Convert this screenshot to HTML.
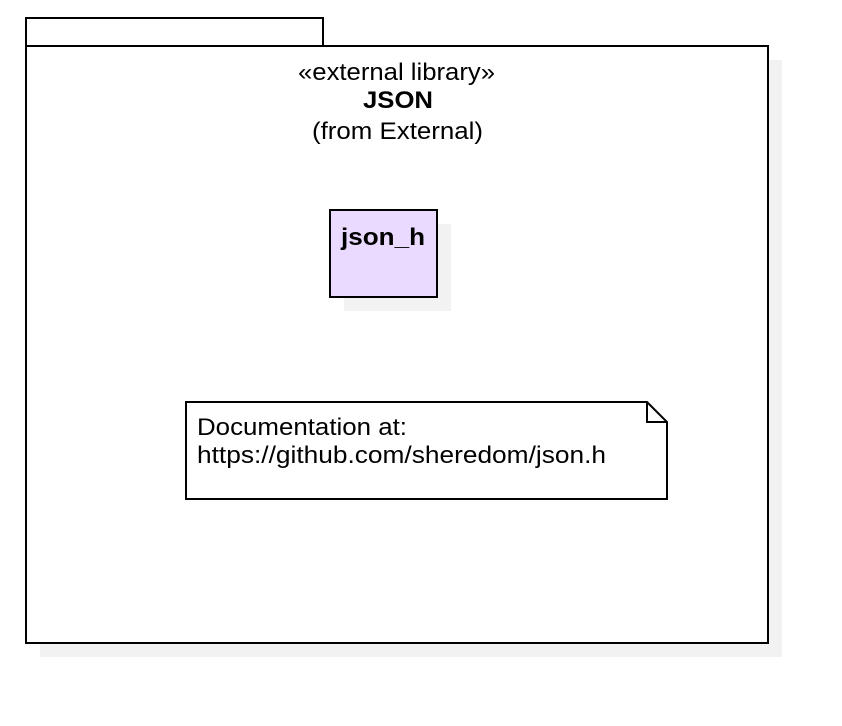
<!DOCTYPE html>
<html><head><meta charset="utf-8"><style>html,body{margin:0;padding:0;background:#fff}svg{display:block}</style></head>
<body>
<svg width="842" height="726" viewBox="0 0 842 726" xmlns="http://www.w3.org/2000/svg" font-family="Liberation Sans, Arial, sans-serif">
<rect x="40" y="60" width="742" height="597" fill="#f2f2f2"/>
<rect x="26" y="18" width="297" height="28" fill="#fff" stroke="#000" stroke-width="2"/>
<rect x="26" y="46" width="742" height="597" fill="#fff" stroke="#000" stroke-width="2"/>
<text x="298" y="80" font-size="24" textLength="197" lengthAdjust="spacingAndGlyphs">«external library»</text>
<text x="363" y="108" font-size="24" font-weight="bold" textLength="70" lengthAdjust="spacingAndGlyphs">JSON</text>
<text x="312" y="139" font-size="24" textLength="171" lengthAdjust="spacingAndGlyphs">(from External)</text>
<rect x="344" y="224" width="107" height="87" fill="#f2f2f2"/>
<rect x="330" y="210" width="107" height="87" fill="#ebdaff" stroke="#000" stroke-width="2"/>
<text x="341" y="245" font-size="24" font-weight="bold" textLength="84" lengthAdjust="spacingAndGlyphs">json_h</text>
<path d="M186 402 H647 L667 422 V499 H186 Z" fill="#fff" stroke="#000" stroke-width="2"/>
<path d="M647 402 V422 H667" fill="none" stroke="#000" stroke-width="2"/>
<text x="197" y="435" font-size="24" textLength="210" lengthAdjust="spacingAndGlyphs">Documentation at:</text>
<text x="197" y="463" font-size="24" textLength="409" lengthAdjust="spacingAndGlyphs">https://github.com/sheredom/json.h</text>
</svg>
</body></html>
